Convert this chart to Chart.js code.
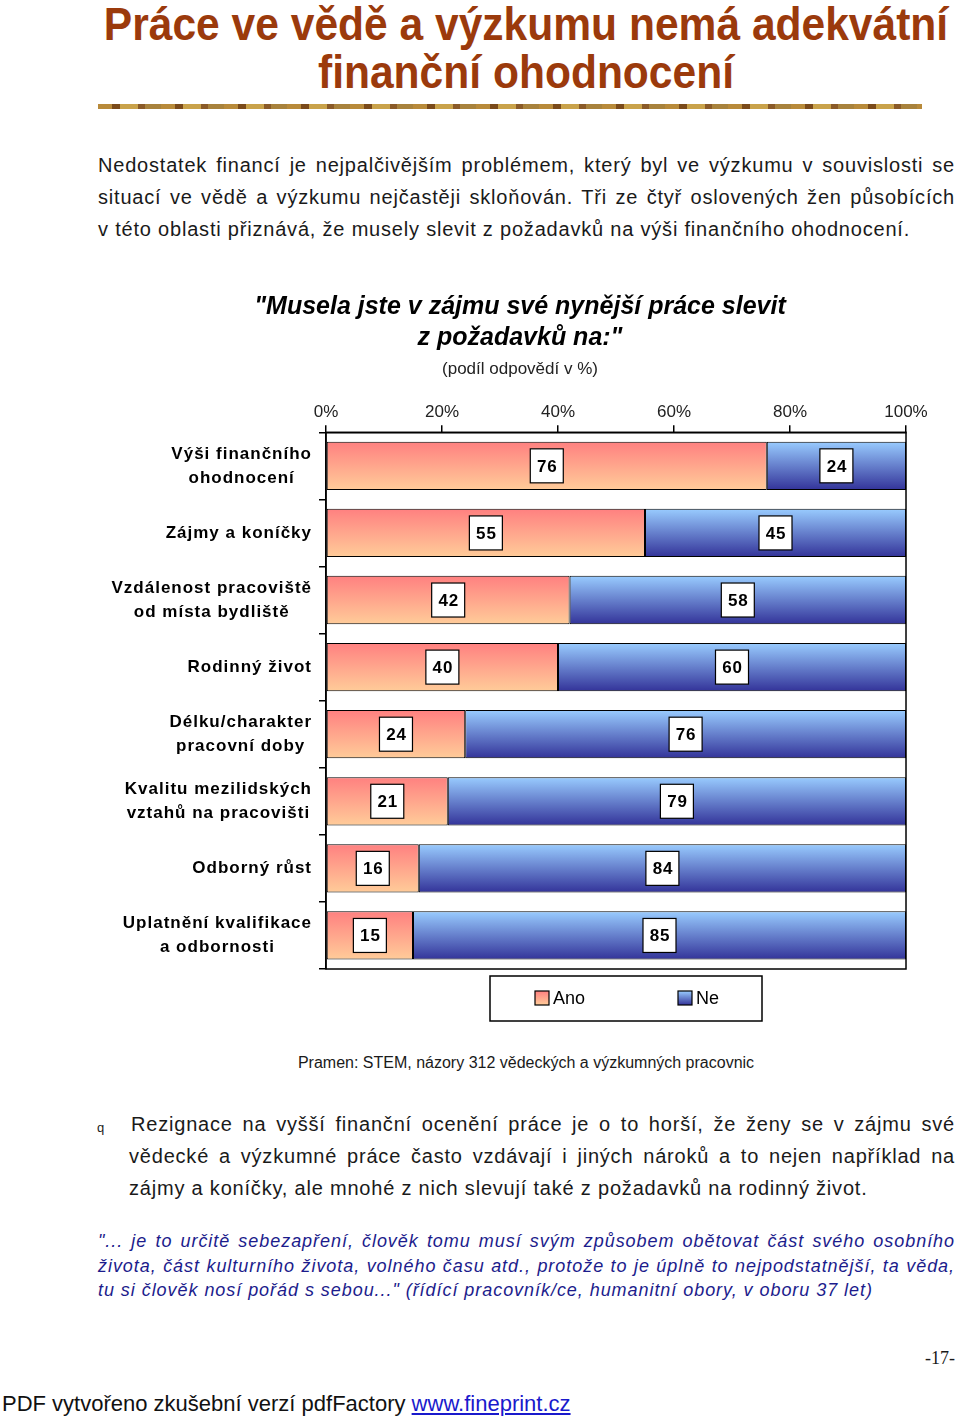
<!DOCTYPE html>
<html lang="cs">
<head>
<meta charset="UTF-8" />
<title>Práce ve vědě a výzkumu</title>
<script src="https://cdn.jsdelivr.net/npm/chart.js"></script>
<style>
  html, body { margin: 0; padding: 0; background: #fff; overflow: hidden; }
  body { width: 960px; height: 1421px; position: relative; font-family: "Liberation Sans", Arial, sans-serif; color: #1a1a1a; }
  #title { position: absolute; left: 60px; width: 932px; top: 0; text-align: center; color: #9b3a0c;
    font-family: "Liberation Sans", Arial, sans-serif; font-weight: bold; font-size: 46px; line-height: 48px;
    transform: scaleX(0.925); transform-origin: 466px 0; }
  #deco { position: absolute; left: 98px; top: 104px; width: 824px; height: 5px;
    background: repeating-linear-gradient(90deg, #b88a3a 0 14px, #7a4a1a 14px 22px, #c9a24a 22px 40px, #8a5a28 40px 47px, #a8823c 47px 63px); }
  .para { position: absolute; left: 98px; width: 857px; font-size: 20px; line-height: 32px; letter-spacing: 0.8px; }
  .para div { text-align: justify; text-align-last: justify; white-space: nowrap; }
  .para div.last { text-align-last: left; }
  #p1 { top: 149px; }
  #chartBox { position: absolute; left: 80px; top: 280px; width: 880px; height: 750px; }
  #source { position: absolute; left: 0; width: 1052px; top: 1054px; text-align: center; font-size: 16px; }
  #bullet { position: absolute; left: 97px; top: 1120px; font-size: 13px; }
  #p2 { top: 1108px; left: 129px; width: 826px; }
  #p2 div.first { padding-left: 2px; }
  #quote { position: absolute; left: 98px; top: 1229px; width: 857px; font-size: 18px; line-height: 24.5px;
    font-style: italic; color: #1c1c8c; letter-spacing: 0.95px; }
  #quote div { text-align: justify; text-align-last: justify; white-space: nowrap; }
  #quote div.last { text-align-last: left; }
  #page { position: absolute; right: 5px; top: 1348px; font-family: "Liberation Serif", serif; font-size: 18px; }
  #footer { position: absolute; left: 2px; top: 1391px; font-size: 22px; color: #111; }
  #footer a { color: #1a1acc; text-decoration: underline; }
</style>
</head>
<body>
  <div id="title">Práce ve vědě a výzkumu nemá adekvátní<br>finanční ohodnocení</div>
  <div id="deco"></div>

  <div class="para" id="p1">
    <div>Nedostatek financí je nejpalčivějším problémem, který byl ve výzkumu v souvislosti se</div>
    <div>situací ve vědě a výzkumu nejčastěji skloňován. Tři ze čtyř oslovených žen působících</div>
    <div class="last">v této oblasti přiznává, že musely slevit z požadavků na výši finančního ohodnocení.</div>
  </div>

  <div id="chartBox"><canvas id="myChart"></canvas></div>

  <div id="source">Pramen: STEM, názory 312 vědeckých a výzkumných pracovnic</div>

  <div id="bullet">q</div>
  <div class="para" id="p2">
    <div class="first">Rezignace na vyšší finanční ocenění práce je o to horší, že ženy se v zájmu své</div>
    <div>vědecké a výzkumné práce často vzdávají i jiných nároků a to nejen například na</div>
    <div class="last">zájmy a koníčky, ale mnohé z nich slevují také z požadavků na rodinný život.</div>
  </div>

  <div id="quote">
    <div>"... je to určitě sebezapření, člověk tomu musí svým způsobem obětovat část svého osobního</div>
    <div>života, část kulturního života, volného času atd., protože to je úplně to nejpodstatnější, ta věda,</div>
    <div class="last">tu si člověk nosí pořád s sebou..." (řídící pracovník/ce, humanitní obory, v oboru 37 let)</div>
  </div>

  <div id="page">-17-</div>
  <div id="footer">PDF vytvořeno zkušební verzí pdfFactory <a>www.fineprint.cz</a></div>

<script>
  var categories = [
    ["Výši finančního", "ohodnocení"],
    "Zájmy a koníčky",
    ["Vzdálenost pracoviště", "od místa bydliště"],
    "Rodinný život",
    ["Délku/charakter", "pracovní doby"],
    ["Kvalitu mezilidských", "vztahů na pracovišti"],
    "Odborný růst",
    ["Uplatnění kvalifikace", "a odbornosti"]
  ];
  var anoValues = [76, 55, 42, 40, 24, 21, 16, 15];
  var neValues = [24, 45, 58, 60, 76, 79, 84, 85];
  var xTickValues = [0, 20, 40, 60, 80, 100];

  var BAR_PCT = 0.72;
  var LABEL_FONT = '"Liberation Sans", Arial, sans-serif';

  function barGradient(context, topColor, bottomColor) {
    var chart = context.chart;
    var yScale = chart.scales.y;
    if (!chart.chartArea || !yScale || context.dataIndex === undefined) return bottomColor;
    var yc = yScale.getPixelForValue(context.dataIndex);
    var half = (chart.chartArea.bottom - chart.chartArea.top) / categories.length * BAR_PCT / 2;
    var g = chart.ctx.createLinearGradient(0, yc - half, 0, yc + half);
    g.addColorStop(0, topColor);
    g.addColorStop(1, bottomColor);
    return g;
  }

  // y labels: each block right-aligned, lines centered inside the block
  var yLabelsPlugin = {
    id: "yLabels",
    afterDraw: function (chart) {
      var c = chart.ctx, yScale = chart.scales.y;
      var right = chart.chartArea.left - 14;
      c.save();
      c.font = "bold 17px " + LABEL_FONT;
      c.letterSpacing = "1px";
      c.fillStyle = "#000";
      c.textAlign = "center";
      c.textBaseline = "middle";
      categories.forEach(function (cat, i) {
        var lines = Array.isArray(cat) ? cat : [cat];
        var w = 0;
        lines.forEach(function (l) { w = Math.max(w, c.measureText(l).width); });
        var cx = right - w / 2;
        var yc = yScale.getPixelForValue(i);
        var lh = 24;
        lines.forEach(function (l, k) {
          c.fillText(l, cx, yc + (k - (lines.length - 1) / 2) * lh);
        });
      });
      c.restore();
    }
  };

  var boxPlugin = {
    id: "boxes",
    afterDraw: function (chart) {
      var c = chart.ctx, a = chart.chartArea;
      c.save();
      // plot area frame
      c.strokeStyle = "#000";
      c.lineWidth = 1.5;
      c.strokeRect(a.left, a.top, a.right - a.left, a.bottom - a.top);

      // value labels
      c.font = "bold 17px " + LABEL_FONT;
      c.letterSpacing = "0.8px";
      c.textAlign = "center";
      c.textBaseline = "middle";
      chart.data.datasets.forEach(function (ds, di) {
        chart.getDatasetMeta(di).data.forEach(function (bar, i) {
          var x = (bar.x + bar.base) / 2;
          var y = bar.y;
          c.fillStyle = "#fff";
          c.fillRect(x - 16.5, y - 17, 33, 34);
          c.lineWidth = 1.2;
          c.strokeStyle = "#000";
          c.strokeRect(x - 16.5, y - 17, 33, 34);
          c.fillStyle = "#000";
          c.fillText(String(ds.data[i]), x + 0.5, y + 1);
        });
      });

      // legend box
      var lx = a.left + 164, ly = a.bottom + 7, lw = 272, lh = 45;
      c.lineWidth = 1.5;
      c.strokeStyle = "#000";
      c.strokeRect(lx, ly, lw, lh);
      c.font = "18px " + LABEL_FONT;
      c.letterSpacing = "0px";
      c.textAlign = "left";
      var offs = [45, 188];
      chart.data.datasets.forEach(function (ds, di) {
        var sx = lx + offs[di], sy = ly + 15;
        var g = c.createLinearGradient(0, sy, 0, sy + 14);
        g.addColorStop(0, ds.gradTop);
        g.addColorStop(1, ds.gradBottom);
        c.fillStyle = g;
        c.fillRect(sx, sy, 14, 14);
        c.lineWidth = 1.2;
        c.strokeRect(sx, sy, 14, 14);
        c.fillStyle = "#000";
        c.fillText(ds.label, sx + 18, sy + 8);
      });
      c.restore();
    }
  };

  var ctx = document.getElementById("myChart").getContext("2d");
  var myChart = new Chart(ctx, {
    type: "bar",
    data: {
      labels: categories,
      datasets: [
        {
          label: "Ano",
          data: anoValues,
          gradTop: "#ff8080",
          gradBottom: "#ffcc99",
          backgroundColor: function (context) { return barGradient(context, "#ff8080", "#ffcc99"); },
          borderColor: "#000",
          borderWidth: 1,
          borderSkipped: false
        },
        {
          label: "Ne",
          data: neValues,
          gradTop: "#99ccff",
          gradBottom: "#333399",
          backgroundColor: function (context) { return barGradient(context, "#99ccff", "#333399"); },
          borderColor: "#000",
          borderWidth: 1,
          borderSkipped: false
        }
      ]
    },
    options: {
      indexAxis: "y",
      responsive: true,
      maintainAspectRatio: false,
      animation: false,
      datasets: { bar: { barPercentage: BAR_PCT, categoryPercentage: 1 } },
      layout: { padding: { left: 0, right: 0, top: 0, bottom: 61 } },
      plugins: {
        legend: { display: false },
        tooltip: { enabled: false },
        title: {
          display: true,
          text: ['"Musela jste v zájmu své nynější práce slevit', 'z požadavků na:"'],
          color: "#000",
          font: { family: LABEL_FONT, size: 25, weight: "bold", style: "italic", lineHeight: 1.25 },
          padding: { top: 11, bottom: 0 }
        },
        subtitle: {
          display: true,
          text: "(podíl odpovědí v %)",
          color: "#222",
          font: { family: LABEL_FONT, size: 17, lineHeight: 1.2 },
          padding: { top: 6, bottom: 19 }
        }
      },
      scales: {
        x: {
          position: "top",
          stacked: true,
          min: 0,
          max: 100,
          afterBuildTicks: function (scale) {
            scale.ticks = xTickValues.map(function (v) { return { value: v }; });
          },
          ticks: {
            color: "#222",
            padding: 3,
            font: { family: LABEL_FONT, size: 17 },
            callback: function (v) { return v + "%"; }
          },
          grid: { drawOnChartArea: false, color: "#000", tickLength: 7, lineWidth: 1.5 },
          border: { color: "#000", width: 1.5 }
        },
        y: {
          stacked: true,
          afterFit: function (scale) { scale.width = 246; },
          ticks: { display: false },
          grid: { offset: true, drawOnChartArea: false, color: "#000", tickLength: 7, lineWidth: 1.5 },
          border: { color: "#000", width: 1.5 }
        },
        // empty axis on the right that only reserves space beside the plot
        yRight: {
          type: "linear",
          position: "right",
          afterFit: function (scale) { scale.width = 54; },
          ticks: { display: false },
          grid: { display: false },
          border: { display: false }
        }
      }
    },
    plugins: [yLabelsPlugin, boxPlugin]
  });
</script>
</body>
</html>
